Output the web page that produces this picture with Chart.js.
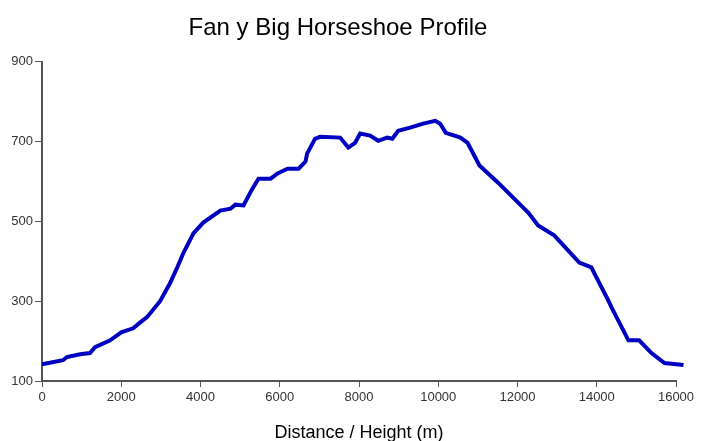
<!DOCTYPE html>
<html>
<head>
<meta charset="utf-8">
<script src="https://cdn.jsdelivr.net/npm/chart.js@4/dist/chart.umd.min.js"></script>
<style>
  html, body { margin: 0; padding: 0; background: #fff; }
</style>
</head>
<body>
<canvas id="profile" width="701" height="441"></canvas>
<script>
// distance along route (m) and height (m)
const distance = [0, 530, 630, 960, 1210, 1340, 1720, 2000, 2300, 2480, 2650, 2980, 3230, 3415, 3565,
  3820, 4070, 4500, 4760, 4880, 5085, 5310, 5465, 5770, 5945, 6200, 6475, 6650, 6690, 6890, 7020,
  7525, 7730, 7900, 8030, 8280, 8485, 8710, 8840, 8990, 9290, 9620, 9925, 10050, 10190, 10560,
  10740, 11040, 11510, 12270, 12520, 12925, 13560, 13865, 13940, 14290, 14370, 14800, 15070,
  15380, 15710, 16190];
const height = [142, 152, 160, 167, 170, 185, 202, 222, 232, 247, 260, 300, 345, 385, 420,
  470, 497, 527, 532, 542, 540, 582, 607, 607, 620, 632, 632, 650, 670, 707, 712,
  710, 685, 697, 720, 715, 702, 710, 707, 727, 735, 745, 752, 745, 722, 710,
  697, 640, 597, 522, 490, 465, 397, 385, 370, 302, 285, 202, 202,
  170, 145, 140];

const xTicks = [0, 2000, 4000, 6000, 8000, 10000, 12000, 14000, 16000];
const yTicks = [100, 300, 500, 700, 900];

const points = distance.map((d, i) => ({ x: d, y: height[i] }));

const axisColor = '#555';
const tickFont = { family: 'Liberation Sans, Arial, sans-serif', size: 13 };

new Chart(document.getElementById('profile'), {
    type: 'line',
    data: {
        datasets: [{
            data: points,
            borderColor: '#0000c0',
            borderWidth: 4,
            pointRadius: 0,
            tension: 0,
            clip: 12,
        }]
    },
    options: {
        responsive: false,
        animation: false,
        layout: { padding: { right: 25 } },
        plugins: {
            legend: { display: false },
            tooltip: { enabled: false },
            title: {
                display: true,
                text: 'Fan y Big Horseshoe Profile',
                color: '#000',
                font: { family: 'Liberation Sans, Arial, sans-serif', size: 24, weight: 'normal' },
                padding: { top: 14, bottom: 19 }
            }
        },
        scales: {
            x: {
                type: 'linear',
                min: xTicks[0],
                max: xTicks[xTicks.length - 1],
                afterBuildTicks: (s) => { s.ticks = xTicks.map(v => ({ value: v })); },
                afterFit: (s) => { s.height = 60; },
                ticks: { color: '#333', font: tickFont, padding: 3, maxRotation: 0, callback: (v) => String(v) },
                grid: { drawOnChartArea: false, tickLength: 6, color: axisColor },
                border: { color: axisColor, width: 2 },
                title: {
                    display: true,
                    text: 'Distance / Height (m)',
                    color: '#000',
                    font: { family: 'Liberation Sans, Arial, sans-serif', size: 18 },
                    padding: { top: 14, bottom: -3 }
                }
            },
            y: {
                min: yTicks[0],
                max: yTicks[yTicks.length - 1],
                afterBuildTicks: (s) => { s.ticks = yTicks.map(v => ({ value: v })); },
                afterFit: (s) => { s.width = 42; },
                ticks: { color: '#333', font: tickFont, padding: 2, callback: (v) => String(v) },
                grid: { drawOnChartArea: false, tickLength: 7, color: axisColor },
                border: { color: axisColor, width: 2 }
            }
        }
    }
});
</script>
</body>
</html>
